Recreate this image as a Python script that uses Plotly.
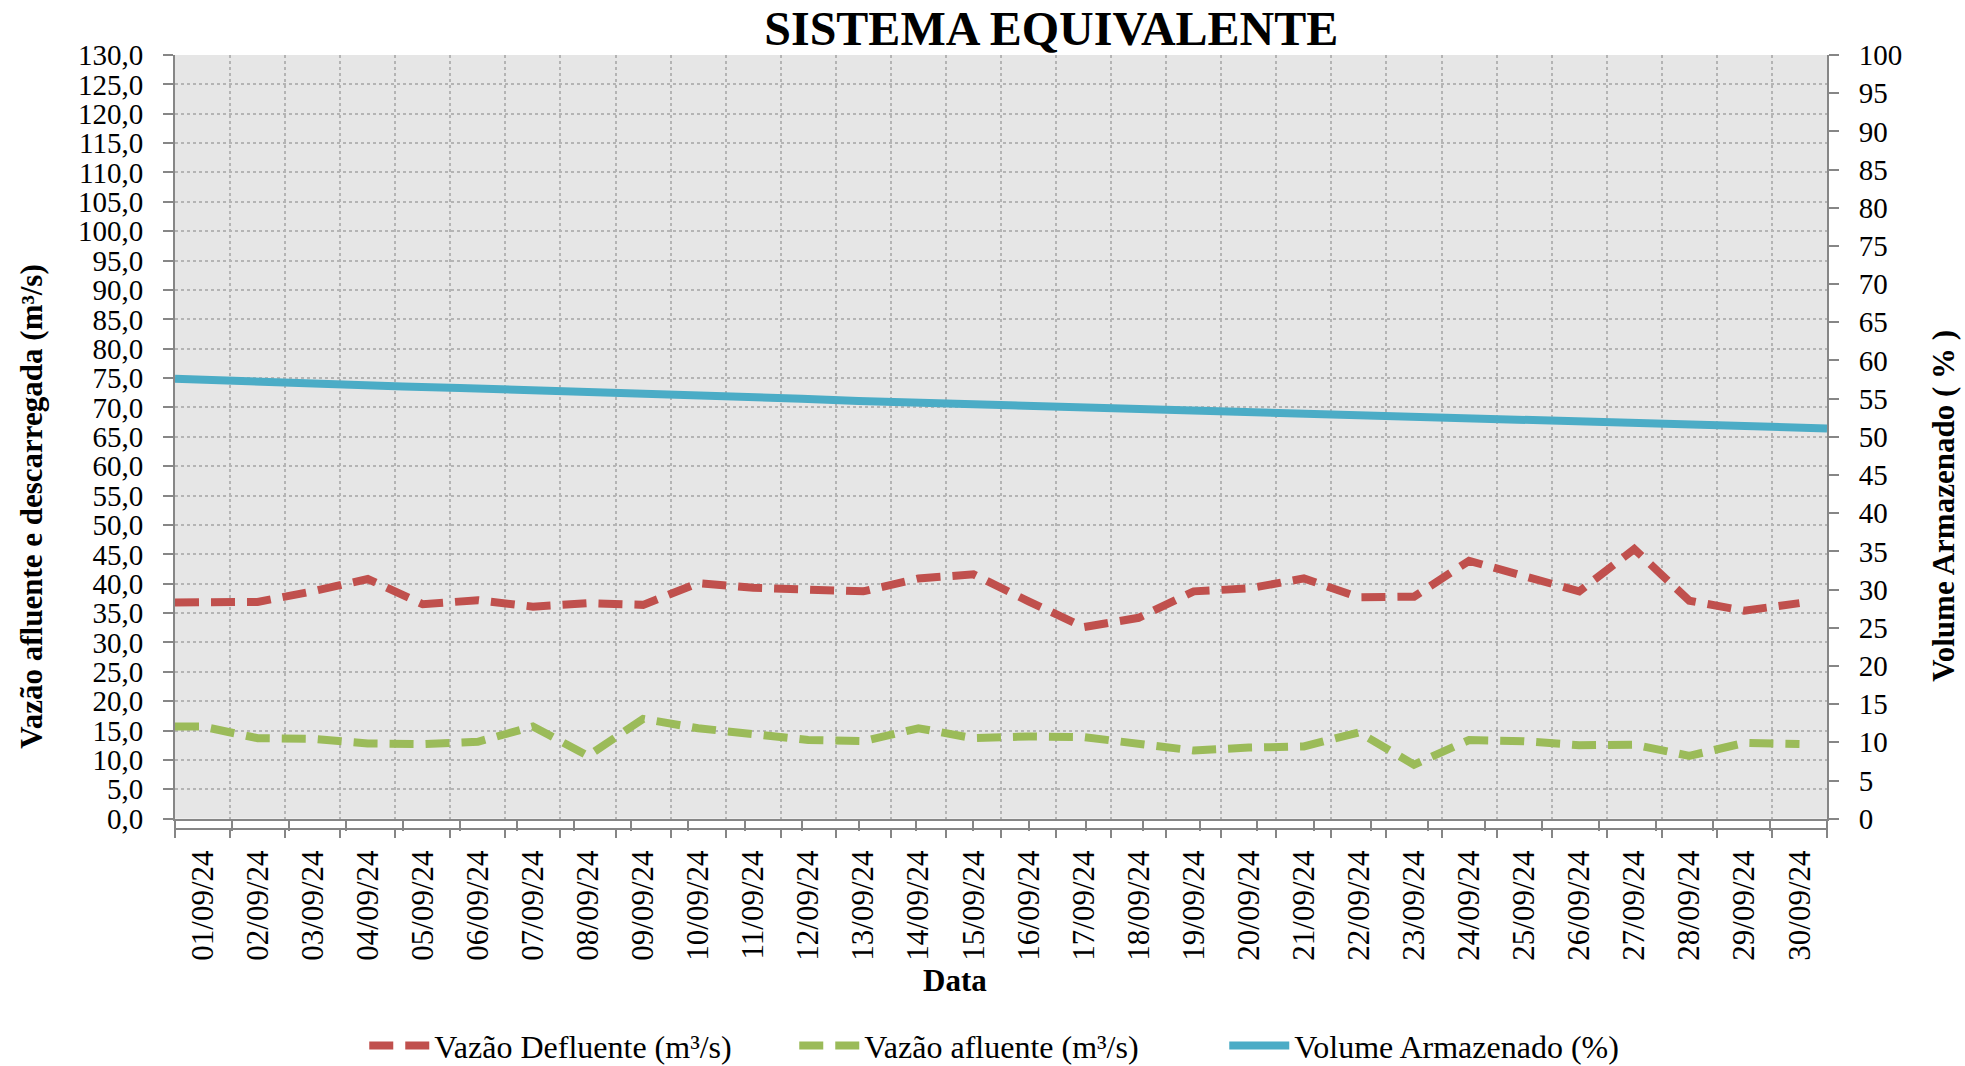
import plotly.graph_objects as go

# Setembro/2024 - valores diarios
datas = ['2024-09-%02d' % d for d in range(1, 31)]

vazao_defluente = [36.8, 36.9, 38.7, 40.8, 36.5, 37.2, 36.1, 36.7, 36.4, 40.1,
                   39.3, 39.0, 38.7, 40.9, 41.6, 37.0, 32.6, 34.2, 38.7, 39.2,
                   40.9, 37.7, 37.8, 43.9, 41.2, 38.7, 45.9, 37.1, 35.4, 36.7]

vazao_afluente = [15.7, 13.7, 13.6, 12.8, 12.7, 13.1, 15.7, 10.7, 17.0, 15.4,
                  14.3, 13.4, 13.2, 15.4, 13.7, 14.0, 13.9, 12.9, 11.6, 12.1,
                  12.3, 14.7, 9.2, 13.4, 13.2, 12.5, 12.6, 10.7, 12.9, 12.7]

volume_armazenado = [57.6, 57.3, 57.1, 56.8, 56.6, 56.4, 56.2, 55.9, 55.7, 55.4,
                     55.2, 55.0, 54.7, 54.5, 54.3, 54.1, 53.9, 53.7, 53.5, 53.2,
                     53.0, 52.8, 52.6, 52.4, 52.1, 51.9, 51.7, 51.5, 51.3, 51.1]

COR_DEF = '#C0504D'
COR_AFL = '#9BBB59'
COR_VOL = '#4BACC6'
EIXO = '#868686'
GRADE = '#B4B4B4'
FONTE = 'Liberation Serif'

# vazoes no meio de cada dia (eixo de categorias); primeiro valor segura ate a borda esquerda
x_vazao = [datas[0]] + [d + ' 12:00' for d in datas]

fig = go.Figure()

fig.add_trace(go.Scatter(
    x=x_vazao, y=[vazao_defluente[0]] + vazao_defluente,
    name='Vazão Defluente (m³/s)', mode='lines',
    line=dict(color=COR_DEF, width=8, dash='24px,12px'),
    xaxis='x', yaxis='y'
))
fig.add_trace(go.Scatter(
    x=x_vazao, y=[vazao_afluente[0]] + vazao_afluente,
    name='Vazão afluente (m³/s)', mode='lines',
    line=dict(color=COR_AFL, width=8, dash='24px,12px'),
    xaxis='x', yaxis='y'
))
# volume no eixo secundario (pontos nas marcas)
fig.add_trace(go.Scatter(
    x=datas, y=volume_armazenado,
    name='Volume Armazenado (%)', mode='lines',
    line=dict(color=COR_VOL, width=8),
    xaxis='x2', yaxis='y2'
))

dia_ms = 86400000
base_y = 0.0133

fig.update_layout(
    width=1965, height=1066,
    paper_bgcolor='white', plot_bgcolor='#E6E6E6',
    margin=dict(l=175, r=138, t=55, b=237),
    separators=',.',
    font=dict(family=FONTE, size=29, color='black'),
    title=dict(text='<b>SISTEMA EQUIVALENTE</b>', xref='container', x=0.535, xanchor='center',
               yref='container', y=0.974, yanchor='middle', font=dict(size=48, color='black')),
    legend=dict(orientation='h', x=0.505, xanchor='center', yref='container', y=0.019,
                yanchor='middle', font=dict(size=32), bgcolor='rgba(0,0,0,0)',
                entrywidth=355, itemwidth=60),
    xaxis=dict(type='date', range=['2024-09-01', '2024-10-01'], anchor='free', position=0,
               tick0='2024-09-01', dtick=dia_ms, tickformat='%d/%m/%y', ticklabelmode='period',
               tickangle=-90, ticks='outside', ticklen=8, tickcolor=EIXO, tickwidth=2,
               showline=True, linecolor=EIXO, linewidth=2,
               showgrid=True, gridcolor=GRADE, griddash='dot', gridwidth=1.5,
               tickfont=dict(size=31), zeroline=False),
    xaxis2=dict(type='date', range=['2024-09-01', '2024-09-30'], overlaying='x', anchor='y',
                side='bottom', tick0='2024-09-01', dtick=dia_ms, showticklabels=False,
                ticks='outside', ticklen=10, tickcolor=EIXO, tickwidth=2,
                showline=True, linecolor=EIXO, linewidth=2, showgrid=False, zeroline=False),
    yaxis=dict(domain=[base_y, 1], range=[0, 130], dtick=5, tickformat='.1f',
               ticks='outside', ticklen=10, tickcolor=EIXO, tickwidth=2,
               showline=True, linecolor=EIXO, linewidth=2,
               showgrid=True, gridcolor=GRADE, griddash='dot', gridwidth=1.5,
               zeroline=False, ticklabelstandoff=14),
    yaxis2=dict(domain=[base_y, 1], range=[0, 100], dtick=5, overlaying='y', side='right',
                anchor='x2', ticks='outside', ticklen=10, tickcolor=EIXO, tickwidth=2,
                showline=True, linecolor=EIXO, linewidth=2, showgrid=False,
                zeroline=False, ticklabelstandoff=14),
)

# titulos dos eixos
fig.add_annotation(text='<b>Vazão afluente e descarregada (m³/s)</b>', textangle=-90,
                   xref='paper', yref='paper', x=-0.0866, y=0.4175, showarrow=False,
                   xanchor='center', yanchor='middle', font=dict(size=31))
fig.add_annotation(text='<b>Volume Armazenado ( % )</b>', textangle=-90,
                   xref='paper', yref='paper', x=1.0708, y=0.4175, showarrow=False,
                   xanchor='center', yanchor='middle', font=dict(size=31))
fig.add_annotation(text='<b>Data</b>', xref='paper', yref='paper', x=0.472, y=-0.196,
                   showarrow=False, xanchor='center', yanchor='middle', font=dict(size=31))

fig.write_html('out.html', config={'displayModeBar': False},
               post_script="document.body.style.margin='0';")
